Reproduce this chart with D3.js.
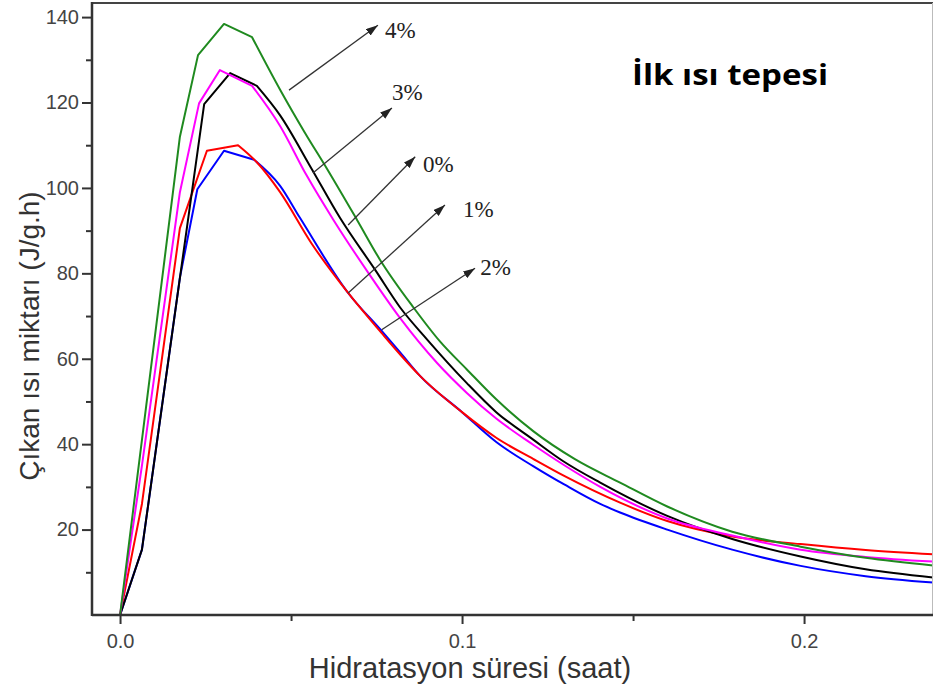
<!DOCTYPE html>
<html>
<head>
<meta charset="utf-8">
<script src="https://cdn.jsdelivr.net/npm/d3@7"></script>
<style>
  body { margin: 0; background: #fff; }
</style>
</head>
<body>
<div id="chart"></div>
<script>
// Hydration time (hours) and released heat (J/g.h) for each additive ratio.
const time4 = [0, 0.0175, 0.0228, 0.0304, 0.0386, 0.0468, 0.054, 0.0605, 0.0693, 0.076, 0.0858, 0.0936, 0.1014, 0.11, 0.1209, 0.133, 0.1462, 0.16, 0.179, 0.199, 0.218, 0.2377];
const heat4 = [0, 112, 131.1, 138.4, 135.3, 123, 113, 104.5, 92.5, 83.2, 72, 64, 57.5, 50.5, 43, 36.5, 31, 25.4, 19.5, 16, 13.4, 11.6];

const time3 = [0, 0.0064, 0.0246, 0.0322, 0.04, 0.0468, 0.056, 0.0643, 0.0746, 0.0819, 0.0898, 0.1014, 0.11, 0.1209, 0.1296, 0.1404, 0.16, 0.179, 0.199, 0.218, 0.2377];
const heat3 = [0, 15.3, 119.6, 126.9, 123.9, 117, 104.5, 93, 80.8, 72, 64.5, 54.3, 47.5, 41, 36, 31, 23.2, 17.8, 13.7, 10.7, 8.8];

const time0 = [0, 0.0064, 0.0175, 0.0231, 0.0292, 0.0386, 0.0468, 0.0545, 0.0624, 0.0726, 0.0819, 0.0927, 0.1014, 0.11, 0.1209, 0.13, 0.1404, 0.16, 0.179, 0.199, 0.218, 0.2377];
const heat0 = [0, 35, 99, 119.8, 127.6, 123.9, 114.5, 103, 92.5, 80.1, 69.5, 59, 52, 46, 39.8, 35, 30, 22.6, 18.6, 15.3, 13.6, 12.5];

const time2 = [0, 0.0064, 0.0175, 0.0254, 0.0345, 0.04, 0.0468, 0.056, 0.0667, 0.0765, 0.0819, 0.0877, 0.1, 0.11, 0.1209, 0.13, 0.1462, 0.16, 0.179, 0.199, 0.218, 0.2377];
const heat2 = [0, 26, 90.6, 108.7, 110, 106, 99, 87, 75.4, 66, 61, 56, 47.5, 41.5, 36.5, 32.5, 26.3, 22, 18.4, 16.6, 15.2, 14.2];

const time1 = [0, 0.0064, 0.0175, 0.0226, 0.0304, 0.0392, 0.0468, 0.0526, 0.0667, 0.0765, 0.0819, 0.0877, 0.1, 0.11, 0.1209, 0.13, 0.1404, 0.1462, 0.16, 0.179, 0.199, 0.218, 0.2377];
const heat1 = [0, 15.3, 79, 99.7, 108.7, 106.6, 100.5, 93, 75.4, 66.5, 61.5, 56, 47.5, 40.5, 34.8, 30.5, 26, 24, 20, 15.3, 11.5, 9.1, 7.6];

// Tick values for both axes.
const xMajorTicks = [0, 0.1, 0.2];
const xMinorTicks = [0.05, 0.15];
const yMajorTicks = [20, 40, 60, 80, 100, 120, 140];
const yMinorTicks = [10, 30, 50, 70, 90, 110, 130];

// Arrow annotations: label, arrow start, arrow tip and label anchor (data units).
const arrowLabels = ["4%", "3%", "0%", "1%", "2%"];
const arrowFromX = [0.0494, 0.0564, 0.0667, 0.0667, 0.0765];
const arrowFromY = [122.9, 103.5, 91.3, 75.4, 66.8];
const arrowToX = [0.0754, 0.0795, 0.0863, 0.0950, 0.1038];
const arrowToY = [138.1, 118.7, 107.3, 96.0, 81.2];
const labelX = [0.0775, 0.0795, 0.0886, 0.1003, 0.1053];
const labelY = [135.1, 120.6, 103.7, 93.2, 79.6];

// Chart size and spacing around the drawing area.
const width = 934;
const height = 686;
const margin = { top: 3, right: 1, bottom: 71, left: 92 };

const svg = d3.select("#chart")
    .append("svg")
    .attr("width", width)
    .attr("height", height);

// Scales.
const xScale = d3.scaleLinear()
    .domain([-0.0082, 0.2377])
    .range([margin.left, width - margin.right]);

const yScale = d3.scaleLinear()
    .domain([0, 143.3])
    .range([height - margin.bottom, margin.top]);

// Series list (drawing order: blue, red, black, magenta, green).
// "sharp" is the index of the last point of the straight-segment rise; the tail is smoothed.
const series = [
    { name: "1%", color: "#0000ff", t: time1, q: heat1, sharp: 5 },
    { name: "2%", color: "#ff0000", t: time2, q: heat2, sharp: 4 },
    { name: "3%", color: "#000000", t: time3, q: heat3, sharp: 4 },
    { name: "0%", color: "#ff00ff", t: time0, q: heat0, sharp: 5 },
    { name: "4%", color: "#1f8a1f", t: time4, q: heat4, sharp: 4 }
];

const sharpLine = d3.line()
    .x(d => xScale(d[0]))
    .y(d => yScale(d[1]));

const smoothLine = d3.line()
    .curve(d3.curveMonotoneX)
    .x(d => xScale(d[0]))
    .y(d => yScale(d[1]));

const curves = svg.append("g");
series.forEach(s => {
    const pts = s.t.map((t, i) => [t, s.q[i]]);
    const path = sharpLine(pts.slice(0, s.sharp + 1)) + smoothLine(pts.slice(s.sharp)).replace(/^M[^A-Z]*/, "");
    curves.append("path")
        .attr("d", path)
        .attr("fill", "none")
        .attr("stroke", s.color)
        .attr("stroke-width", 2)
        .attr("stroke-linejoin", "round");
});

// Frame around the plot.
const x0 = margin.left, x1 = width - margin.right;
const y0 = margin.top, y1 = height - margin.bottom;
svg.append("line").attr("x1", x0).attr("x2", x1).attr("y1", y0).attr("y2", y0)
    .attr("stroke", "#444").attr("stroke-width", 2);
svg.append("line").attr("x1", x1 - 0.5).attr("x2", x1 - 0.5).attr("y1", y0).attr("y2", y1)
    .attr("stroke", "#bbb").attr("stroke-width", 1);

// Y axis: major ticks with labels, then minor ticks.
const yAxis = svg.append("g")
    .attr("transform", `translate(${x0}, 0)`)
    .call(d3.axisLeft(yScale).tickValues(yMajorTicks).tickSize(10).tickSizeOuter(0).tickPadding(3));
const yMinor = svg.append("g")
    .attr("transform", `translate(${x0}, 0)`)
    .call(d3.axisLeft(yScale).tickValues(yMinorTicks).tickSize(6).tickSizeOuter(0).tickFormat(""));

// X axis: major ticks with labels, then minor ticks.
const xAxis = svg.append("g")
    .attr("transform", `translate(0, ${y1})`)
    .call(d3.axisBottom(xScale).tickValues(xMajorTicks).tickSize(9).tickSizeOuter(0)
        .tickPadding(10).tickFormat(d3.format(".1f")));
const xMinor = svg.append("g")
    .attr("transform", `translate(0, ${y1})`)
    .call(d3.axisBottom(xScale).tickValues(xMinorTicks).tickSize(6).tickSizeOuter(0).tickFormat(""));

[yAxis, yMinor, xAxis, xMinor].forEach(g => {
    g.select(".domain").remove();
    g.selectAll(".tick line").attr("stroke", "#333").attr("stroke-width", 2);
    g.selectAll(".tick text")
        .attr("fill", "#444")
        .style("font-family", "'Liberation Sans', Arial, sans-serif")
        .style("font-size", "20px");
});

// Left and bottom axis lines drawn on top.
svg.append("line").attr("x1", x0).attr("x2", x0).attr("y1", y0 - 1).attr("y2", y1 + 1)
    .attr("stroke", "#333").attr("stroke-width", 2.5);
svg.append("line").attr("x1", x0).attr("x2", x1).attr("y1", y1).attr("y2", y1)
    .attr("stroke", "#333").attr("stroke-width", 2.5);

// Arrow head marker.
svg.append("defs").append("marker")
    .attr("id", "head")
    .attr("viewBox", "0 0 12 8")
    .attr("refX", 12)
    .attr("refY", 4)
    .attr("markerWidth", 12)
    .attr("markerHeight", 8)
    .attr("markerUnits", "userSpaceOnUse")
    .attr("orient", "auto")
    .append("path")
    .attr("d", "M0,0 L12,4 L0,8 Z")
    .attr("fill", "#222");

// Arrows pointing from the curves to the ratio labels.
const annotations = svg.append("g");
arrowLabels.forEach((label, i) => {
    annotations.append("line")
        .attr("x1", xScale(arrowFromX[i]))
        .attr("y1", yScale(arrowFromY[i]))
        .attr("x2", xScale(arrowToX[i]))
        .attr("y2", yScale(arrowToY[i]))
        .attr("stroke", "#333")
        .attr("stroke-width", 1.3)
        .attr("marker-end", "url(#head)");
    annotations.append("text")
        .attr("x", xScale(labelX[i]))
        .attr("y", yScale(labelY[i]))
        .attr("fill", "#222")
        .style("font-family", "'Liberation Serif', 'Times New Roman', serif")
        .style("font-size", "23px")
        .text(label);
});

// Title inside the plot.
svg.append("text")
    .attr("x", 632)
    .attr("y", 85)
    .attr("textLength", 196)
    .attr("lengthAdjust", "spacingAndGlyphs")
    .style("font-family", "'Open Sans', sans-serif")
    .style("font-weight", "bold")
    .style("font-size", "29px")
    .attr("fill", "#000")
    .text("İlk ısı tepesi");

// Axis titles.
svg.append("text")
    .attr("x", 470)
    .attr("y", 678)
    .attr("text-anchor", "middle")
    .attr("fill", "#333")
    .style("font-family", "'Liberation Sans', Arial, sans-serif")
    .style("font-size", "29px")
    .text("Hidratasyon süresi (saat)");

svg.append("text")
    .attr("x", -336)
    .attr("y", 39)
    .attr("transform", "rotate(-90)")
    .attr("text-anchor", "middle")
    .attr("fill", "#333")
    .style("font-family", "'Liberation Sans', Arial, sans-serif")
    .style("font-size", "28px")
    .text("Çıkan ısı miktarı (J/g.h)");
</script>
</body>
</html>
